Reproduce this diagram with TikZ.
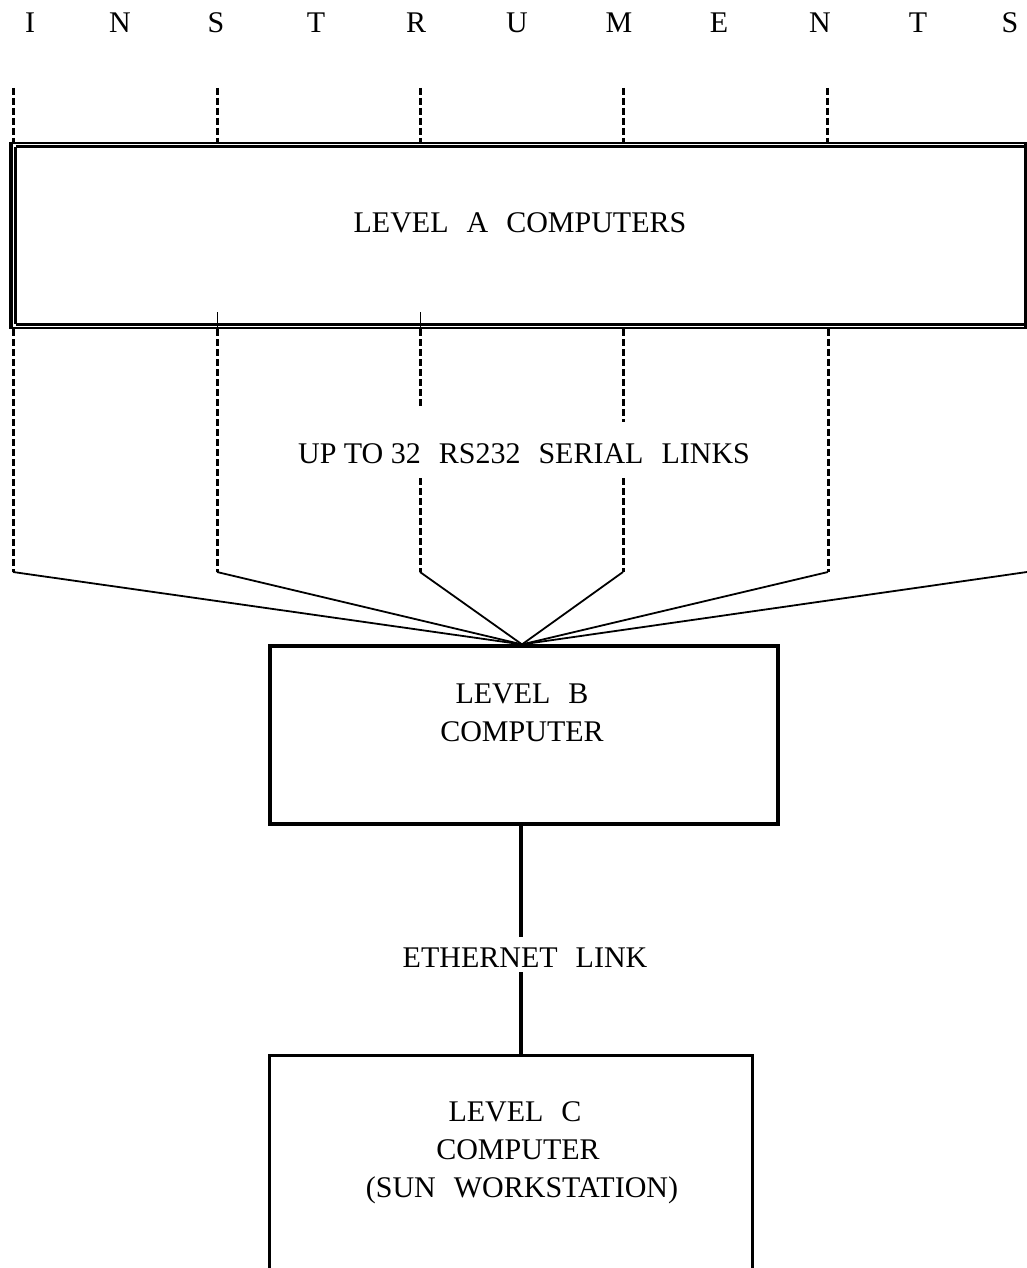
\documentclass[tikz,border=0pt]{standalone}
\usepackage{fontspec}
\setmainfont{Liberation Serif}
\newcommand\wsp{\hspace{0.6em}}
\begin{document}
\begin{tikzpicture}[x=1pt,y=-1pt,
  lbl/.style={font=\fontsize{30}{38}\selectfont, inner sep=0pt, anchor=base},
  dashline/.style={line width=3pt, dash pattern=on 7pt off 3pt},
  fan/.style={line width=1.8pt},
  boxline/.style={line width=3.2pt},
  dbl/.style={line width=2.5pt}]
\fill[white] (0,0) rectangle (1027,1268);
\useasboundingbox (0,0) rectangle (1027,1268);

% INSTRUMENTS
\foreach \letter/\xx [count=\i] in {I/30,N/120,S/216,T/316,R/416,U/517,M/619,E/719,N/820,T/918,S/1010}
  \node[lbl] (ins\i) at (\xx,33) {\letter};

% Level A box (double lines)
\node[draw, dbl, minimum width=1013pt, minimum height=185pt, inner sep=0pt] (levA) at (518.5,235.5) {};
\draw[dbl] ([xshift=5pt,yshift=-5pt]levA.north west) -- ([yshift=-5pt]levA.north east);
\draw[dbl] ([xshift=5pt,yshift=5pt]levA.south west) -- ([yshift=5pt]levA.south east);
\draw[line width=2.8pt] ([xshift=5pt,yshift=-5pt]levA.north west) -- ([xshift=5pt,yshift=5pt]levA.south west);
\draw[line width=3.2pt] (levA.north west) -- (levA.south west);
\draw[line width=3.2pt] (levA.north east) -- (levA.south east);
\node[lbl] (levAtxt) at (520,232) {LEVEL\wsp A\wsp COMPUTERS};

% dashed lines above
\foreach \xx [count=\i] in {13,217,420,623,827} {
  \coordinate (top\i) at (\xx,88);
  \draw[dashline] (top\i) -- (top\i |- levA.north);
}

% label of serial links
\node[lbl] (serial) at (524,463) {UP TO 32\wsp RS232\wsp SERIAL\wsp LINKS};

% dashed lines below
\foreach \xx [count=\i] in {13,217,420,623,828}
  \coordinate (bot\i) at (\xx,572);
\coordinate (redge) at (1027,572);
\draw[dashline] (bot1 |- levA.south) -- (bot1);
\draw[dashline] (bot2 |- levA.south) -- (bot2);
\draw[dashline] (bot5 |- levA.south) -- (bot5);
\coordinate (b3a) at (420,407);
\coordinate (b3b) at (420,478);
\coordinate (b4a) at (623,422);
\coordinate (b4b) at (623,478);
\draw[dashline] (bot3 |- levA.south) -- (b3a);
\draw[dashline] (b3b) -- (bot3);
\draw[dashline] (bot4 |- levA.south) -- (b4a);
\draw[dashline] (b4b) -- (bot4);
% thin stubs crossing box bottom
\draw[line width=0.8pt] (bot2 |- levA.south) -- ++(0,-17);
\draw[line width=0.8pt] (bot3 |- levA.south) -- ++(0,-17);

% Level B box
\node[draw, boxline, minimum width=508pt, minimum height=178pt, inner sep=0pt] (levB) at (524,735) {};
\coordinate (conv) at ([xshift=-2pt]levB.north);
\foreach \i in {1,...,5}
  \draw[fan] (bot\i) -- (conv);
\draw[fan] (redge) -- (conv);
\node[lbl] (levBa) at (522,703) {LEVEL\wsp B};
\node[lbl] (levBb) at (522,741) {COMPUTER};

% Level C box (open at bottom)
\node[minimum width=482pt, minimum height=240pt, inner sep=0pt] (levC) at (511,1176) {};
\draw[boxline] (levC.south west) -- (levC.north west) -- (levC.north east) -- (levC.south east);
\node[lbl] (levCa) at (515,1121) {LEVEL\wsp C};
\node[lbl] (levCb) at (518,1159) {COMPUTER};
\node[lbl] (levCc) at (522,1197) {(SUN\wsp WORKSTATION)};

% Ethernet link
\node[lbl] (eth) at (525,967) {ETHERNET\wsp LINK};
\coordinate (e1) at (521,937);
\coordinate (e2) at (521,972);
\draw[boxline] (e1 |- levB.south) -- (e1);
\draw[boxline] (e2) -- (e2 |- levC.north);
\end{tikzpicture}
\end{document}
